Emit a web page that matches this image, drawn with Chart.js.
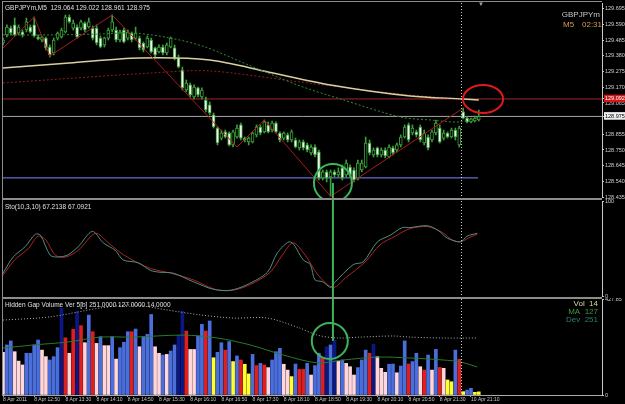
<!DOCTYPE html>
<html><head><meta charset="utf-8">
<script src="https://cdn.jsdelivr.net/npm/chart.js@4.4.1/dist/chart.umd.min.js"></script>
<style>
html,body{margin:0;padding:0;background:#000;width:625px;height:404px;overflow:hidden;position:relative;font-family:"Liberation Sans",Arial,sans-serif;}
canvas{position:absolute;left:0;}
.t{position:absolute;font-size:6.5px;line-height:8px;white-space:nowrap;color:#e0e0e0;}
.ln{position:absolute;background:#8c8c8c;}
</style></head><body>
<canvas id="c1" style="top:0px" width="625" height="199"></canvas>
<canvas id="c2" style="top:199px" width="625" height="99"></canvas>
<canvas id="c3" style="top:298px" width="625" height="106"></canvas>

<div class="ln" style="left:2px;top:1px;width:600px;height:1px"></div>
<div class="ln" style="left:2px;top:1px;width:1px;height:395px"></div>
<div class="ln" style="left:2px;top:198px;width:600px;height:2px"></div>
<div class="ln" style="left:2px;top:297px;width:600px;height:2px"></div>

<div class="t" style="left:5px;top:4px;">GBPJPYm,M5&nbsp; 129.064 129.022 128.961 128.975</div>
<div class="t" style="right:25px;top:11px;font-size:8px;color:#c8c8c8;">GBPJPYm</div>
<div class="t" style="left:563px;top:21px;font-size:8px;color:#d89a50;">M5</div>
<div class="t" style="left:582px;top:21px;font-size:8px;color:#d89a50;">02:31</div>
<div class="t" style="left:478px;top:0px;font-size:6px;color:#a0a0a0;">▼</div>
<div class="t" style="left:5px;top:203px;">Sto(10,3,10) 67.2138 67.0921</div>
<div class="t" style="left:5px;top:301px;">Hidden Gap Volume Ver 5[b] 251.0000 127.0000 14.0000</div>
<div class="t" style="right:27px;top:300px;font-size:8px;color:#d8d890;">Vol&nbsp;&nbsp;14</div>
<div class="t" style="right:27px;top:308px;font-size:8px;color:#3c9a3c;">MA&nbsp;&nbsp;127</div>
<div class="t" style="right:27px;top:316px;font-size:8px;color:#2f7f6f;">Dev&nbsp;&nbsp;251</div>

<script>
// ---------------- DATA ----------------
const timeLabels = ["8 Apr 2011","8 Apr 12:50","8 Apr 13:30","8 Apr 14:10","8 Apr 14:50","8 Apr 15:30","8 Apr 16:10","8 Apr 16:50","8 Apr 17:30","8 Apr 18:10","8 Apr 18:50","8 Apr 19:30","8 Apr 20:10","8 Apr 20:50","8 Apr 21:30","10 Apr 21:10"];
const timeTickIdx = [0,8,16,24,32,40,48,56,64,72,80,88,96,104,112,120];
const sessionBreak = 117.5;

const opens = [129.467,129.521,129.567,129.588,129.534,129.541,129.554,129.574,129.588,129.507,
129.487,129.500,129.440,129.400,129.500,129.507,129.541,129.641,129.567,129.574,
129.567,129.601,129.574,129.567,129.567,129.500,129.454,129.500,129.554,129.554,
129.487,129.554,129.500,129.534,129.500,129.500,129.467,129.440,129.487,129.434,
129.407,129.440,129.400,129.440,129.434,129.366,129.286,129.152,129.186,129.105,
129.166,129.105,129.085,129.052,128.985,128.897,128.830,128.871,128.864,128.784,
128.837,128.918,128.830,128.804,128.804,128.851,128.904,128.871,128.918,128.884,
128.931,128.864,128.830,128.851,128.817,128.817,128.764,128.804,128.784,128.730,
128.770,128.737,128.563,128.603,128.569,128.603,128.583,128.630,128.583,128.636,
128.616,128.563,128.616,128.636,128.797,128.717,128.764,128.717,128.750,128.703,
128.764,128.750,128.784,128.837,128.918,128.864,128.871,128.904,128.797,128.837,
128.817,128.864,128.897,128.830,128.864,128.837,128.884,128.784,129.005,128.964,
128.938,128.944,128.951];
const highs = [129.500,129.588,129.581,129.634,129.588,129.554,129.634,129.588,129.641,129.521,
129.514,129.507,129.454,129.500,129.541,129.567,129.655,129.655,129.621,129.588,
129.621,129.608,129.634,129.581,129.588,129.514,129.507,129.567,129.655,129.574,
129.554,129.567,129.554,129.541,129.574,129.514,129.474,129.514,129.500,129.440,
129.454,129.454,129.467,129.507,129.454,129.387,129.306,129.219,129.199,129.186,
129.172,129.166,129.105,129.072,128.998,128.904,128.884,128.884,128.871,128.884,
128.918,128.931,128.837,128.837,128.871,128.918,128.918,128.951,128.938,128.944,
128.938,128.871,128.871,128.864,128.884,128.830,128.817,128.817,128.797,128.784,
128.784,128.750,128.616,128.616,128.616,128.616,128.630,128.650,128.683,128.650,
128.630,128.683,128.683,128.837,128.817,128.764,128.770,128.764,128.764,128.784,
128.777,128.797,128.851,128.918,128.931,128.918,128.884,128.918,128.884,128.851,
128.884,128.951,128.918,128.884,128.871,128.897,128.897,128.910,129.031,128.971,
128.964,128.978,129.018];
const lows = [129.454,129.507,129.521,129.514,129.521,129.507,129.541,129.534,129.507,129.487,
129.474,129.420,129.373,129.387,129.487,129.500,129.534,129.601,129.554,129.500,
129.554,129.541,129.567,129.487,129.454,129.434,129.440,129.487,129.541,129.474,
129.474,129.467,129.487,129.474,129.487,129.420,129.407,129.434,129.400,129.373,
129.400,129.387,129.387,129.434,129.353,129.300,129.152,129.139,129.105,129.092,
129.105,129.092,129.005,128.985,128.897,128.784,128.817,128.830,128.777,128.770,
128.830,128.817,128.804,128.784,128.797,128.837,128.851,128.864,128.864,128.871,
128.864,128.804,128.817,128.804,128.804,128.764,128.750,128.750,128.737,128.717,
128.703,128.549,128.549,128.536,128.440,128.569,128.569,128.549,128.569,128.569,
128.536,128.549,128.603,128.630,128.717,128.703,128.703,128.703,128.697,128.697,
128.717,128.737,128.770,128.830,128.804,128.851,128.837,128.804,128.784,128.750,
128.804,128.851,128.797,128.817,128.830,128.830,128.817,128.770,128.958,128.931,
128.931,128.938,128.944];
const closes = [129.487,129.574,129.534,129.521,129.574,129.521,129.608,129.541,129.514,129.494,
129.507,129.434,129.387,129.487,129.534,129.554,129.641,129.608,129.601,129.507,
129.608,129.554,129.608,129.500,129.467,129.440,129.500,129.554,129.608,129.487,
129.541,129.474,129.541,129.487,129.534,129.434,129.420,129.500,129.407,129.387,
129.440,129.400,129.454,129.500,129.366,129.306,129.166,129.199,129.119,129.172,
129.119,129.152,129.018,128.998,128.904,128.797,128.864,128.837,128.784,128.871,
128.897,128.830,128.817,128.830,128.864,128.904,128.864,128.938,128.871,128.931,
128.871,128.817,128.864,128.817,128.871,128.770,128.804,128.764,128.750,128.770,
128.717,128.563,128.603,128.563,128.603,128.583,128.603,128.563,128.663,128.583,
128.549,128.663,128.663,128.797,128.730,128.750,128.717,128.750,128.710,128.770,
128.730,128.784,128.837,128.904,128.817,128.897,128.851,128.817,128.864,128.764,
128.871,128.931,128.804,128.864,128.837,128.884,128.837,128.897,128.964,128.938,
128.958,128.964,128.975];

// indicator lines: [bar index, value]
const zigzagPts = [[0,129.433],[8,129.641],[12,129.380],[28,129.655],[60,128.770],[67,128.951],[84,128.440],[118,129.031]];
const maGreenPts = [[0,129.521],[11.4,129.521],[25,129.527],[33.4,129.534],[42.9,129.500],[51.9,129.440],[62.9,129.320],[76.2,129.179],[86.5,129.092],[101.9,128.971],[109.6,128.951],[117.3,128.938],[121.9,128.971]];
const maKhakiPts = [[0,129.300],[17,129.333],[35,129.366],[53,129.353],[68,129.273],[84,129.186],[104.4,129.112],[118,129.092],[122,129.085]];
const maRedPts = [[0,129.199],[38,129.266],[53,129.280],[76,129.206],[104,129.119],[118,129.092],[122,129.090]];
const levelPrices = [129.092, 128.975, 128.563];
const levelEnds = [153.6, 153.6, 121.8];
const priceTicks = [129.695,129.590,129.485,129.380,129.275,129.170,129.065,128.855,128.750,128.645,128.540,128.435];
const askMark = 129.092, bidMark = 128.975;

const stoMainPts = [[0,24],[2.6,41],[5.7,52],[8.3,65],[9.6,64],[12.1,43],[14,41],[16.5,43],[19.3,52],[22.9,68],[25.7,56],[28.8,48],[30.8,38],[34.7,35],[37.8,27],[40.3,25],[43.7,24],[48.8,15],[54,7],[58.3,6],[62.6,12],[67.8,25],[70.3,45],[73.7,57],[77,38],[78.8,33],[80,17],[82,15],[84,9],[85,14],[89.8,33],[92.4,36],[96,57],[99.3,64],[102.4,72],[104.4,72],[108.8,74],[111.6,69],[113.9,61],[117.3,57],[119,63],[121.6,66]];
const stoSignalPts = [[0,22],[3,38],[6.5,50],[9,63],[11,59],[13.4,43],[16,41],[19.3,48],[23.7,66],[27,56],[30,46],[34,36],[37.8,29],[43,24],[48.8,17],[54.4,7],[58.8,6],[63.4,12],[68.5,25],[71.6,43],[74.4,56],[77.5,43],[80.8,22],[84.7,9],[87.8,19],[92.9,36],[96.7,54],[100.6,63],[104.4,71],[109,73],[112.6,67],[115.2,59],[117.3,57],[119.8,62],[121.6,65]];

const volumes = [190,223,241,193,151,134,186,186,223,245,200,171,156,171,211,386,255,186,293,371,
309,233,356,282,230,260,220,220,260,160,211,235,282,282,294,215,260,270,359,215,
186,178,181,196,223,267,374,285,203,203,263,315,285,330,166,190,233,200,238,149,
174,156,137,94,181,131,141,134,122,156,193,208,137,111,82,138,114,114,141,89,
131,186,163,215,223,245,151,156,141,126,89,122,156,200,186,226,171,119,101,137,
138,99,129,241,138,149,186,126,111,178,111,203,123,119,67,59,200,159,15,22,30,12,14];
const volColorCodes = "pbbpppbbbbppbbbnrprnrpbrpbppbpbbbrbpbbbppbpbbnnrppbbrbybbrbybryybrbrpbbbppybrrbpbbrnbnpbpppbbbrnpppbbpbbrbbprbpbrpyybrybbyy";
const volDevPts = [[0,334],[12,348],[25,388],[33.4,401],[42,379],[50.6,357],[59,343],[67.8,343],[76,299],[80.6,267],[85.7,254],[91.6,258],[100,263],[104.4,258],[112.9,254],[121.6,254]];
const volMaPts = [[0,209],[7.8,223],[16.5,236],[25,258],[33.4,258],[46.2,267],[55,254],[63.4,223],[71.9,178],[80.6,143],[87.3,156],[96,169],[104.4,165],[112.9,156],[117.3,147],[121.6,125]];
const volTicks = [427.85, 0];
const stoTicks = [100, 0];

// chart annotations (bar index / value space)
const marks = {
  ellipse: {x:123.1, y:129.092, rx:20, ry:14},
  circleMain: {x:84.6, y:128.529, r:19},
  circleVol: {x:83.8, y:241, r:18},
  linkX: 84.6
};

// ---------------- STYLE / HELPERS ----------------
const FONT = "'Liberation Sans', Arial, sans-serif";
const AXIS_FONT = {size:5.5, family:FONT};
const X_MIN = 0, X_MAX = 153.6;
const idx = closes.map((_, i) => i);
const pts = a => a.map(p => ({x:p[0], y:p[1]}));
const colorMap = {b:'#4a6edc', n:'#0b1782', r:'#e01e1e', p:'#ffd6dc', y:'#ffff30'};
const CANDLE = '#3aa03a';

const sepPlugin = {
  id:'sep',
  afterDatasetsDraw(chart){
    const ctx = chart.ctx, x = Math.round(chart.scales.x.getPixelForValue(sessionBreak)) + 0.5;
    const {top, bottom} = chart.chartArea;
    ctx.save(); ctx.strokeStyle = '#d0d0d0'; ctx.lineWidth = 1; ctx.setLineDash([1,2]);
    ctx.beginPath(); ctx.moveTo(x, top); ctx.lineTo(x, bottom); ctx.stroke(); ctx.restore();
  }
};
const annoPlugin = {
  id:'anno',
  afterDraw(chart, args, opts){
    const ctx = chart.ctx, xs = chart.scales.x, ys = chart.scales.y;
    (opts.items || []).forEach(it => {
      ctx.save(); ctx.strokeStyle = it.color; ctx.lineWidth = it.width || 2;
      ctx.beginPath();
      if (it.kind === 'ellipse') {
        ctx.ellipse(xs.getPixelForValue(it.x), ys.getPixelForValue(it.y), it.rx, it.ry, 0, 0, Math.PI*2);
      } else if (it.kind === 'circle') {
        ctx.arc(xs.getPixelForValue(it.x), ys.getPixelForValue(it.y), it.r, 0, Math.PI*2);
      } else if (it.kind === 'vline') {
        const x = xs.getPixelForValue(it.x);
        const y0 = it.from == null ? 0 : ys.getPixelForValue(it.from);
        const y1 = it.to == null ? chart.height : ys.getPixelForValue(it.to);
        ctx.moveTo(x, y0); ctx.lineTo(x, y1);
      }
      ctx.stroke(); ctx.restore();
    });
  }
};

const xHidden = {type:'linear', min:X_MIN, max:X_MAX, offset:false, display:false, grid:{display:false, offset:false}};
function yAxis(extra){
  return Object.assign({
    position:'right',
    afterFit(s){ s.width = 23; s.paddingTop = 0; s.paddingBottom = 0; },
    grid:{display:true, drawOnChartArea:false, drawTicks:true, tickLength:2, color:'#c8c8c8'},
    border:{display:true, color:'#c8c8c8', dash:[1,1]},
  }, extra);
}
const baseOpts = (padding) => ({
  responsive:false, animation:false, devicePixelRatio:1, events:[],
  layout:{padding},
  plugins:{legend:{display:false}, tooltip:{enabled:false}}
});
const lineDs = (data, color, extra) => Object.assign({type:'line', data:pts(data), borderColor:color, borderWidth:1, pointRadius:0, fill:false, tension:0.3}, extra);

// ---------------- MAIN PRICE PANE ----------------
new Chart(document.getElementById('c1'), {
  type:'bar',
  data:{datasets:[
    lineDs(zigzagPts, '#a81c1c', {tension:0, order:1}),
    lineDs(maGreenPts, '#2e8e2e', {borderDash:[2,2], order:2}),
    lineDs(maKhakiPts, '#d8d0a0', {borderWidth:1.5, order:2}),
    lineDs(maRedPts, '#8e2020', {borderDash:[2,2], order:2}),
    {type:'bar', data: idx.map(i => ({x:i, y:[opens[i], closes[i]]})),
      backgroundColor: idx.map(i => closes[i] >= opens[i] ? '#000000' : '#f2f2f2'),
      borderColor: CANDLE, borderWidth:1, borderSkipped:false, barThickness:3, grouped:false, order:5},
    {type:'bar', data: idx.map(i => ({x:i, y:[lows[i], highs[i]]})),
      backgroundColor: CANDLE, barThickness:1, grouped:false, order:6},
    lineDs([[X_MIN, levelPrices[0]],[levelEnds[0], levelPrices[0]]], '#a02626', {tension:0, order:7}),
    lineDs([[X_MIN, levelPrices[1]],[levelEnds[1], levelPrices[1]]], '#a8a8a8', {tension:0, order:8}),
    lineDs([[X_MIN, levelPrices[2]],[levelEnds[2], levelPrices[2]]], '#8484ff', {tension:0, order:9})
  ]},
  options: Object.assign(baseOpts({left:3, right:0, top:3, bottom:2}), {
    plugins:{legend:{display:false}, tooltip:{enabled:false},
      anno:{items:[
        {kind:'ellipse', x:marks.ellipse.x, y:marks.ellipse.y, rx:marks.ellipse.rx, ry:marks.ellipse.ry, color:'#e01a1a', width:2},
        {kind:'circle', x:marks.circleMain.x, y:marks.circleMain.y, r:marks.circleMain.r, color:'#3cb45a', width:2},
        {kind:'vline', x:marks.linkX, from:marks.circleMain.y, to:null, color:'#3cb45a', width:2}
      ]}},
    scales:{
      x: xHidden,
      y: yAxis({min:128.435, max:129.735,
        afterBuildTicks(s){ s.ticks = priceTicks.concat([askMark, bidMark]).map(v => ({value:v})); },
        ticks:{autoSkip:false, padding:1, font:AXIS_FONT,
          color: c => c.tick && c.tick.value === bidMark ? '#000' : (c.tick && c.tick.value === askMark ? '#fff' : '#d0d0d0'),
          showLabelBackdrop: c => !!c.tick && (c.tick.value === askMark || c.tick.value === bidMark),
          backdropColor: c => c.tick && c.tick.value === askMark ? '#d01818' : '#f0f0f0',
          backdropPadding:{top:1, bottom:0, left:1, right:1},
          callback: v => v.toFixed(3)}
      })
    }
  }),
  plugins:[sepPlugin, annoPlugin]
});

// ---------------- STOCHASTIC PANE ----------------
new Chart(document.getElementById('c2'), {
  type:'line',
  data:{datasets:[
    lineDs(stoMainPts, '#4f8f84', {order:1}),
    lineDs(stoSignalPts, '#b02424', {order:2})
  ]},
  options: Object.assign(baseOpts({left:3, right:0, top:2, bottom:2}), {
    plugins:{legend:{display:false}, tooltip:{enabled:false},
      anno:{items:[{kind:'vline', x:marks.linkX, from:null, to:null, color:'#3cb45a', width:2}]}},
    scales:{
      x: xHidden,
      y: yAxis({min:0, max:100,
        afterBuildTicks(s){ s.ticks = stoTicks.map(v => ({value:v})); },
        ticks:{autoSkip:false, padding:1, font:AXIS_FONT, color:'#d0d0d0', callback: v => String(v)}
      })
    }
  }),
  plugins:[sepPlugin, annoPlugin]
});

// ---------------- VOLUME PANE ----------------
new Chart(document.getElementById('c3'), {
  type:'bar',
  data:{datasets:[
    lineDs(volDevPts, '#b4b4b4', {borderDash:[1,2], order:1}),
    lineDs(volMaPts, '#2a7a2a', {order:2}),
    {type:'bar', data: idx.map(i => ({x:i, y:volumes[i]})),
      backgroundColor: idx.map(i => colorMap[volColorCodes[i]]), barThickness:3, grouped:false, order:3}
  ]},
  options: Object.assign(baseOpts({left:3, right:0, top:1, bottom:0}), {
    plugins:{legend:{display:false}, tooltip:{enabled:false},
      anno:{items:[
        {kind:'circle', x:marks.circleVol.x, y:marks.circleVol.y, r:marks.circleVol.r, color:'#3cb45a', width:2},
        {kind:'vline', x:marks.linkX, from:null, to:marks.circleVol.y, color:'#3cb45a', width:2}
      ]}},
    scales:{
      x:{type:'linear', min:X_MIN, max:X_MAX, offset:false, position:'bottom',
        afterBuildTicks(s){ s.ticks = timeTickIdx.map(v => ({value:v})); },
        afterFit(s){ s.height = 9; s.paddingLeft = 0; s.paddingRight = 0; },
        grid:{display:true, drawOnChartArea:false, drawTicks:true, tickLength:2, color:'#a0a0a0', offset:false},
        border:{display:true, color:'#a8a8a8'},
        ticks:{autoSkip:false, maxRotation:0, minRotation:0, align:'start', padding:0,
          font:{size:5, family:FONT}, color:'#c8c8c8', callback:(v, i) => timeLabels[i]}
      },
      y: yAxis({min:0, max:427.85,
        afterBuildTicks(s){ s.ticks = volTicks.map(v => ({value:v})); },
        ticks:{autoSkip:false, padding:1, font:AXIS_FONT, color:'#d0d0d0', callback: v => v === 0 ? '0' : v.toFixed(2)}
      })
    }
  }),
  plugins:[sepPlugin, annoPlugin]
});
</script>
</body></html>
